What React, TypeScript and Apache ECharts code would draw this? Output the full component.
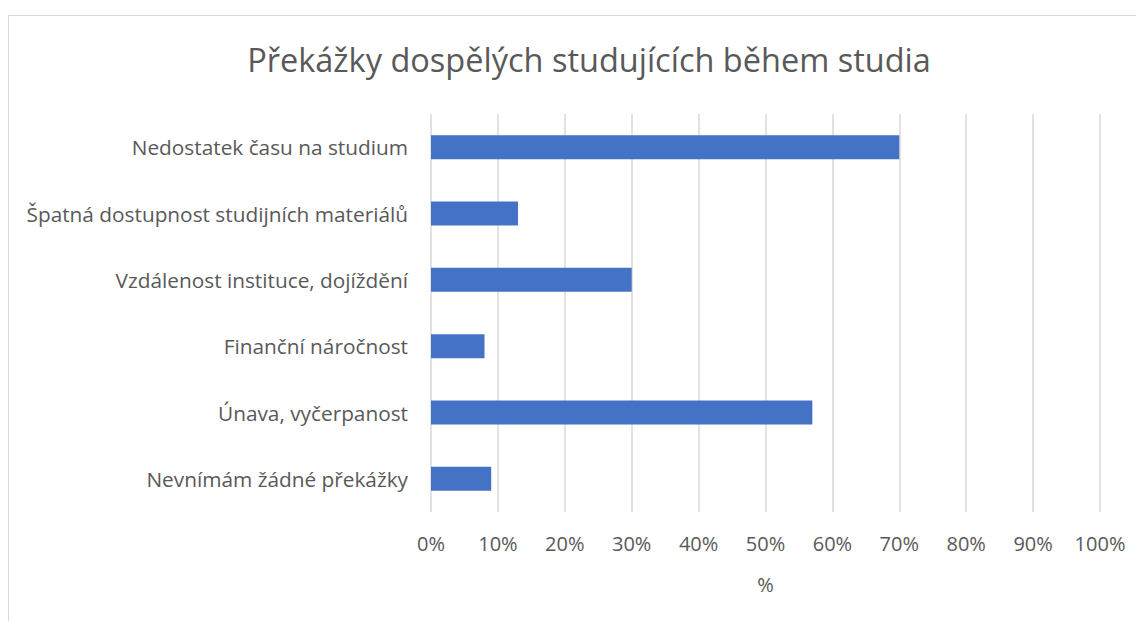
import React, { useEffect, useRef } from "react";
import * as echarts from "echarts";

const categories = [
  "Nevnímám žádné překážky",
  "Únava, vyčerpanost",
  "Finanční náročnost",
  "Vzdálenost instituce, dojíždění",
  "Špatná dostupnost studijních materiálů",
  "Nedostatek času na studium",
];
const values = [9, 57, 8, 30, 13, 70];
const titleText = "Překážky dospělých studujících během studia";
const axisName = "%";

export default function App() {
  const ref = useRef<HTMLDivElement>(null);
  useEffect(() => {
    if (!ref.current) return;
    const chart = echarts.init(ref.current, null, { renderer: "svg" });
    const font = "Open Sans, Noto Sans, sans-serif";
    chart.setOption({
      animation: false,
      textStyle: { fontFamily: font },
      title: {
        text: titleText,
        left: 576,
        top: 30,
        textAlign: "center",
        textStyle: { fontSize: 32.5, fontWeight: "normal", color: "#595959", fontFamily: font },
      },
      graphic: [
        {
          type: "rect",
          shape: { x: 0.5, y: 7.5, width: 1200, height: 700 },
          style: { fill: "none", stroke: "#d9d9d9", lineWidth: 1 },
          silent: true,
        },
      ],
      grid: { left: 423, right: 44, top: 106, bottom: 109, containLabel: false },
      xAxis: {
        type: "value",
        min: 0,
        max: 100,
        interval: 10,
        name: axisName,
        nameLocation: "middle",
        nameGap: 62,
        nameTextStyle: { fontSize: 20, color: "#595959", fontFamily: font },
        axisLabel: { formatter: "{value}%", fontSize: 20, color: "#595959", margin: 21, fontFamily: font },
        axisLine: { show: false },
        axisTick: { show: false },
        splitLine: { show: true, lineStyle: { color: "#d9d9d9", width: 1.5 } },
      },
      yAxis: {
        type: "category",
        data: categories,
        axisLabel: { fontSize: 20.8, color: "#595959", margin: 23, fontFamily: font },
        axisLine: { show: false },
        axisTick: { show: false },
      },
      series: [
        {
          type: "bar",
          data: values,
          barWidth: 24,
          itemStyle: { color: "#4472C4" },
        },
      ],
    });
    return () => chart.dispose();
  }, []);
  return <div ref={ref} style={{ width: 1136, height: 613 }} />;
}
